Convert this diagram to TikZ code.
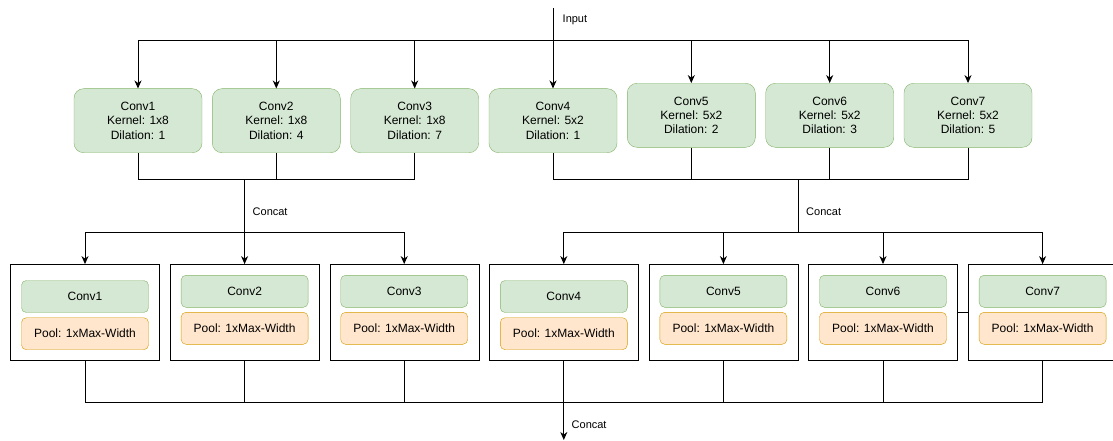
\documentclass[tikz,border=0pt]{standalone}
\usepackage{fontspec}
\setmainfont{Liberation Sans}
\usetikzlibrary{arrows.meta}
\definecolor{gfill}{HTML}{D5E8D4}
\definecolor{gline}{HTML}{82B366}
\definecolor{ofill}{HTML}{FFE6CC}
\definecolor{oline}{HTML}{D79B00}
\tikzset{
  convbox/.style={draw=gline, fill=gfill, rounded corners=9.6pt, minimum width=128pt, minimum height=64pt, inner sep=0pt, align=center, font=\fontsize{12pt}{14.4pt}\selectfont},
  outerbox/.style={draw=black, fill=white, minimum width=149pt, minimum height=96pt, inner sep=0pt},
  greeninner/.style={draw=gline, fill=gfill, rounded corners=4.8pt, minimum width=127pt, minimum height=32pt, inner sep=0pt, font=\fontsize{12pt}{14.4pt}\selectfont},
  orangeinner/.style={draw=oline, fill=ofill, rounded corners=4.8pt, minimum width=127pt, minimum height=32pt, inner sep=0pt, font=\fontsize{12pt}{14.4pt}\selectfont},
  lbl/.style={font=\fontsize{11pt}{13pt}\selectfont, inner sep=0pt},
  wire/.style={draw=black, line width=1pt},
  arr/.style={wire, -{Stealth[length=8pt,width=7pt,inset=2.5pt]}}
}
\begin{document}
\begin{tikzpicture}[x=1pt,y=-1pt]
\useasboundingbox (0,0) rectangle (1113,441);
\clip (0,0) rectangle (1113,441);
% top conv boxes
\node[convbox] (c1) at (138,120.7) {Conv1\\Kernel: 1x8\\Dilation: 1};
\node[convbox] (c2) at (276.3,120.7) {Conv2\\Kernel: 1x8\\Dilation: 4};
\node[convbox] (c3) at (414.7,120.7) {Conv3\\Kernel: 1x8\\Dilation: 7};
\node[convbox] (c4) at (553,120.7) {Conv4\\Kernel: 5x2\\Dilation: 1};
\node[convbox] (c5) at (691.3,115.3) {Conv5\\Kernel: 5x2\\Dilation: 2};
\node[convbox] (c6) at (829.7,115.3) {Conv6\\Kernel: 5x2\\Dilation: 3};
\node[convbox] (c7) at (968,115.3) {Conv7\\Kernel: 5x2\\Dilation: 5};
% bottom outer boxes
\node[outerbox] (b1) at (85,312.3) {};
\node[outerbox] (b2) at (244.6,312.3) {};
\node[outerbox] (b3) at (404.2,312.3) {};
\node[outerbox] (b4) at (563.8,312.3) {};
\node[outerbox] (b5) at (723.4,312.3) {};
\node[outerbox] (b6) at (883,312.3) {};
\node[outerbox] (b7) at (1042.6,312.3) {};
% inner boxes
\node[greeninner] (g1) at (85,296.5) {Conv1};
\node[orangeinner] (p1) at (85,333.7) {Pool: 1xMax-Width};
\node[greeninner] (g2) at (244.6,291.3) {Conv2};
\node[orangeinner] (p2) at (244.6,328.3) {Pool: 1xMax-Width};
\node[greeninner] (g3) at (404.2,291.3) {Conv3};
\node[orangeinner] (p3) at (404.2,328.3) {Pool: 1xMax-Width};
\node[greeninner] (g4) at (563.8,296.5) {Conv4};
\node[orangeinner] (p4) at (563.8,333.7) {Pool: 1xMax-Width};
\node[greeninner] (g5) at (723.4,291.3) {Conv5};
\node[orangeinner] (p5) at (723.4,328.3) {Pool: 1xMax-Width};
\node[greeninner] (g6) at (883,291.3) {Conv6};
\node[orangeinner] (p6) at (883,328.3) {Pool: 1xMax-Width};
\node[greeninner] (g7) at (1042.6,291.3) {Conv7};
\node[orangeinner] (p7) at (1042.6,328.3) {Pool: 1xMax-Width};
% input fan-out
\coordinate (in) at (553,8);
\coordinate (split) at (553,41);
\node[lbl, anchor=west] (inlbl) at (562.5,20) {Input};
\draw[wire] (in) -- (split);
\foreach \n in {c1,c2,c3,c5,c6,c7} \draw[arr] (split) -| (\n.north);
\draw[arr] (split) -- (c4.north);
% left concat
\coordinate (j1) at (244.6,179.3);
\coordinate (k1) at (244.6,232.7);
\draw[wire] (c1.south) |- (j1);
\draw[wire] (c3.south) |- (j1);
\draw[wire] (c2.south) -- (c2.south |- j1);
\node[lbl, anchor=west] (cat1) at (252.5,212) {Concat};
\draw[wire] (j1) -- (k1);
\foreach \n in {b1,b3} \draw[arr] (k1) -| (\n.north);
\draw[arr] (k1) -- (b2.north);
% right concat
\coordinate (j2) at (798,179.3);
\coordinate (k2) at (798,232.7);
\draw[wire] (c4.south) |- (j2);
\draw[wire] (c7.south) |- (j2);
\draw[wire] (c5.south) -- (c5.south |- j2);
\draw[wire] (c6.south) -- (c6.south |- j2);
\node[lbl, anchor=west] (cat2) at (806,212) {Concat};
\draw[wire] (j2) -- (k2);
\foreach \n in {b4,b5,b6,b7} \draw[arr] (k2) -| (\n.north);
% link between box 6 and 7
\draw[wire] (b6.east) -- (b7.west);
% final concat
\coordinate (j3) at (563.8,402.7);
\coordinate (out) at (563.8,440);
\draw[wire] (b1.south) |- (j3);
\draw[wire] (b7.south) |- (j3);
\foreach \n in {b2,b3,b5,b6} \draw[wire] (\n.south) -- (\n.south |- j3);
\draw[arr] (b4.south) -- (out);
\node[lbl, anchor=west] (cat3) at (571.5,425) {Concat};
\end{tikzpicture}
\end{document}
